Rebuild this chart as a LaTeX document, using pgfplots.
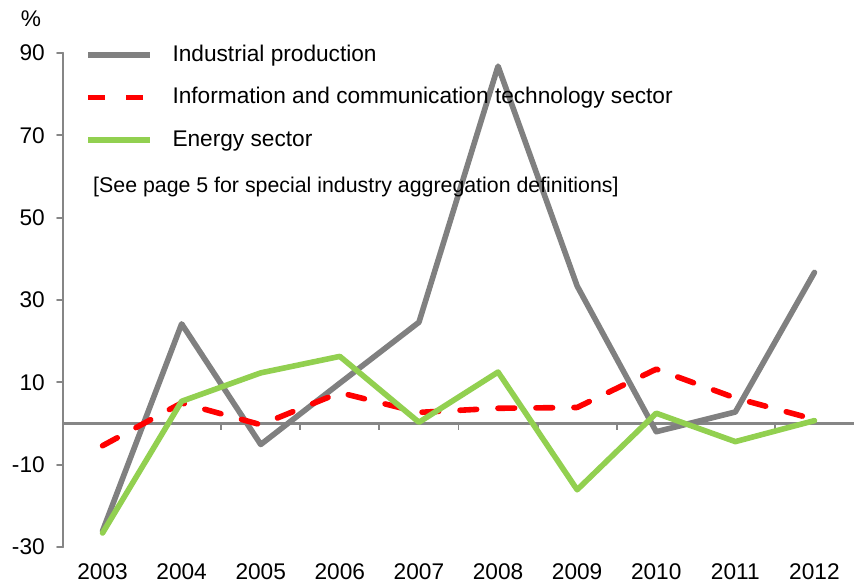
\documentclass[border=0pt]{standalone}
\usepackage{fontspec}
\setmainfont{Liberation Sans}
\usepackage{pgfplots}
\pgfplotsset{compat=1.18}
\definecolor{ipgray}{RGB}{128,128,128}
\definecolor{ictred}{RGB}{255,0,0}
\definecolor{engreen}{RGB}{146,208,80}
\definecolor{axgray}{RGB}{134,134,134}

\pgfplotstableread{
year ind ict energy
2003 -26.1 -5.4 -26.6
2004 24.2 5.0 5.4
2005 -5.1 -0.3 12.3
2006 9.8 7.5 16.3
2007 24.6 2.7 0.3
2008 86.8 3.7 12.5
2009 33.4 3.9 -16.1
2010 -2.0 13.2 2.5
2011 2.8 6.2 -4.4
2012 36.7 1.0 0.7
}\datatable

\begin{document}
\begin{tikzpicture}[font=\fontsize{17}{20}\selectfont]
\pgfplotsset{base/.style={width=593.25pt,height=370.5pt,scale only axis,
  xmin=2002.5,xmax=2012.5,ymin=-30,ymax=90,at={(0,0)},anchor=south west,
  /pgf/number format/assume math mode=true}}
% zero line with ticks between categories
\begin{axis}[base, axis y line=none, axis x line=middle,
  x axis line style={-,draw=axgray,line width=1.6pt},
  xtick={2003.5,2004.5,2005.5,2006.5,2007.5,2008.5,2009.5,2010.5,2011.5},
  xticklabels={}, tick align=outside, major tick length=4.5pt,
  xtick style={draw=axgray,line width=1.4pt}, ytick=\empty]
\end{axis}
\begin{axis}[base, axis y line=left, axis x line=bottom,
  clip mode=individual,
  x axis line style={draw=none},
  y axis line style={-,draw=axgray,line width=1.6pt},
  ytick={-30,-10,10,30,50,70,90},
  tick align=outside, major tick length=4.5pt,
  ytick style={draw=axgray,line width=1.4pt},
  xtick={2003,2004,2005,2006,2007,2008,2009,2010,2011,2012},
  xticklabels={2003,2004,2005,2006,2007,2008,2009,2010,2011,2012},
  x tick style={draw=none},
  yticklabel style={inner sep=0pt,xshift=-9pt},
  xticklabel style={inner sep=0pt,yshift=-8pt},
  legend cell align=left,
  legend style={at={(0.0278,1.018)},anchor=north west,draw=none,fill=none,
    inner sep=0pt,row sep=15.9pt,column sep=15pt,
    nodes={inner sep=0pt,text height=12.5pt,text depth=3.5pt}},
  legend image code/.code={\draw[#1] (0pt,0pt) -- (46.25pt,0pt);},
  line cap=round, line join=round]
\addplot[ipgray, line width=4.2pt] table[x=year,y=ind] {\datatable};
\addlegendentry{Industrial production}
\addplot[ictred, line width=4.2pt, dash pattern=on 12.5pt off 16pt] table[x=year,y=ict] {\datatable};
\addlegendentry{Information and communication technology sector}
\addplot[engreen, line width=4.2pt] table[x=year,y=energy] {\datatable};
\addlegendentry{Energy sector}
\node[anchor=west,inner sep=0pt,font=\fontsize{16}{19}\selectfont] at (rel axis cs:0.0379,0.7287) {[See page 5 for special industry aggregation definitions]};
\node[anchor=center,inner sep=0pt] at (rel axis cs:-0.0405,1.0688) {\%};
\end{axis}
\pgfresetboundingbox
\path[use as bounding box] (-47.25pt,-29.25pt) rectangle (593.25pt,410.25pt);
\end{tikzpicture}
\end{document}
